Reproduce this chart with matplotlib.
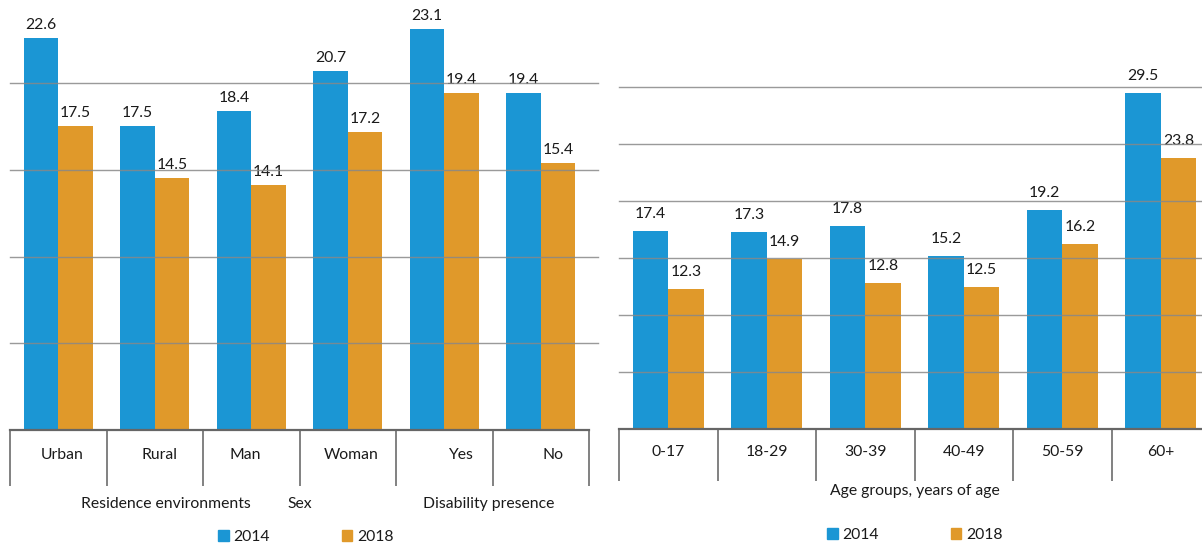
import numpy as np
import matplotlib
matplotlib.use("Agg")
import matplotlib.pyplot as plt
from matplotlib.patches import Patch

plt.rcParams['font.family'] = ['Lato', 'DejaVu Sans']
plt.rcParams['font.size'] = 11

# left panel data
left_cats = ['Urban', 'Rural', 'Man', 'Woman', 'Yes', 'No']
left_2014 = [22.6, 17.5, 18.4, 20.7, 23.1, 19.4]
left_2018 = [17.5, 14.5, 14.1, 17.2, 19.4, 15.4]
left_groups = ['Residence environments', 'Sex', 'Disability presence']

# right panel data
age_cats = ['0-17', '18-29', '30-39', '40-49', '50-59', '60+']
age_2014 = [17.4, 17.3, 17.8, 15.2, 19.2, 29.5]
age_2018 = [12.3, 14.9, 12.8, 12.5, 16.2, 23.8]

blue = '#1b96d4'
orange = '#e0992a'
txt = '#1a1a1a'

W, H = 1202, 545
fig = plt.figure(figsize=(W / 100, H / 100), dpi=100)


def px_axes(x0, x1, ybase, ytop):
    return fig.add_axes([x0 / W, (H - ybase) / H, (x1 - x0) / W, (ybase - ytop) / H])


def draw_panel(ax, cats, v1, v2, ymax, grid, tick_len, lab_off, val_off, lab_dx=None):
    x = np.arange(len(cats))
    w = 0.36
    ax.bar(x - w / 2, v1, w, color=blue, zorder=2)
    ax.bar(x + w / 2, v2, w, color=orange, zorder=2)
    for xi, a, b in zip(x, v1, v2):
        ax.annotate(f'{a:.1f}', (xi - w / 2, a), xytext=(0, val_off), textcoords='offset pixels',
                    ha='center', va='bottom', color=txt, fontsize=11.3)
        ax.annotate(f'{b:.1f}', (xi + w / 2, b), xytext=(0, val_off), textcoords='offset pixels',
                    ha='center', va='bottom', color=txt, fontsize=11.3)
    for g in grid:
        ax.axhline(g, color='#888888', lw=1, alpha=0.85, zorder=3, xmax=1.015, clip_on=False)
    ax.set_xlim(-0.5, len(cats) - 0.5)
    ax.set_ylim(0, ymax)
    for s in ['top', 'right', 'left']:
        ax.spines[s].set_visible(False)
    ax.spines['bottom'].set_color('#666666')
    ax.spines['bottom'].set_linewidth(1.6)
    ax.spines['bottom'].set_zorder(4)
    ax.set_yticks([])
    ax.set_xticks(np.arange(len(cats) + 1) - 0.5)
    ax.set_xticklabels([])
    ax.tick_params(axis='x', length=tick_len * 0.72, width=1.3, color='#777777')
    if lab_dx is None:
        lab_dx = [0] * len(cats)
    for xi, c, dx in zip(x, cats, lab_dx):
        ax.annotate(c, (xi, 0), xycoords=ax.get_xaxis_transform(), xytext=(dx, -lab_off),
                    textcoords='offset pixels', ha='center', va='center', color=txt, fontsize=11.3,
                    annotation_clip=False)


# left panel
axl = px_axes(10, 589, 430, -3.75)
draw_panel(axl, left_cats, left_2014, left_2018, 25, [5, 10, 15, 20], 56, 25, 6,
           lab_dx=[4, 5, -6, 3, 16, 12])
for gx, g in zip([1.12, 2.5, 4.46], left_groups):
    axl.annotate(g, (gx, 0), xycoords=axl.get_xaxis_transform(), xytext=(0, -74),
                 textcoords='offset pixels', ha='center', va='center', color=txt, fontsize=11.3,
                 annotation_clip=False)

# right panel
axr = px_axes(619, 1210, 429, 30)
draw_panel(axr, age_cats, age_2014, age_2018, 35, [5, 10, 15, 20, 25, 30], 52, 23, 10)
axr.annotate('Age groups, years of age', (0.5, 0), xycoords='axes fraction', xytext=(0, -62),
             textcoords='offset pixels', ha='center', va='center', color=txt, fontsize=11.3,
             annotation_clip=False)

handles = [Patch(color=blue, label='2014'), Patch(color=orange, label='2018')]
for cx, cy in [(306, 537), (915, 535)]:
    fig.legend(handles=handles, loc='center', bbox_to_anchor=(cx / W, 1 - cy / H), ncol=2,
               frameon=False, fontsize=11.3, handlelength=0.65, handleheight=0.65,
               handletextpad=0.3, columnspacing=4.6, borderpad=0, labelcolor=txt)

fig.savefig('out.png', dpi=100)
